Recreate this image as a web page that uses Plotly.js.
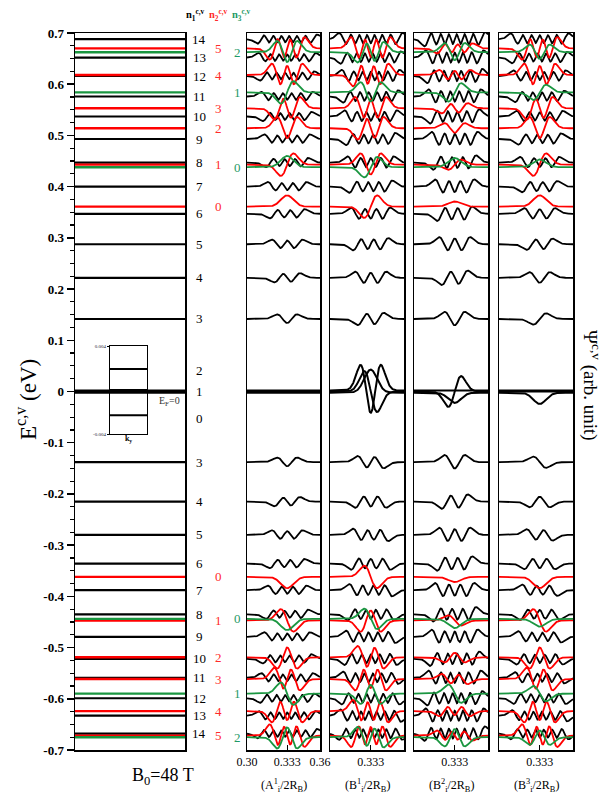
<!DOCTYPE html>
<html><head><meta charset="utf-8">
<script src="https://cdn.plot.ly/plotly-3.0.1.min.js"></script>
<style>html,body{margin:0;padding:0;background:#fff}</style>
</head><body><div id="chart" style="width:607px;height:795px"></div>
<script>
// ---- data (energies in eV) ----
const zeroN  = [0, 1, 2];
const zeroE  = [-0.0023, 0.0, 0.0019];
const condN1 = [3, 4, 5, 6, 7, 8, 9, 10, 11, 12, 13, 14];
const condE1 = [0.1416, 0.222, 0.2875, 0.347, 0.400, 0.447, 0.493, 0.537, 0.576, 0.616, 0.652, 0.688];
const condN2 = [0, 1, 2, 3, 4, 5];
const condE2 = [0.361, 0.443, 0.514, 0.553, 0.618, 0.670];
const condN3 = [0, 1, 2];
const condE3 = [0.438, 0.584, 0.6625];
const valN1  = [3, 4, 5, 6, 7, 8, 9, 10, 11, 12, 13, 14];
const valE1  = [-0.138, -0.215, -0.280, -0.336, -0.388, -0.435, -0.479, -0.522, -0.559, -0.599, -0.633, -0.668];
const valN2  = [0, 1, 2, 3, 4, 5];
const valE2  = [-0.362, -0.447, -0.519, -0.5615, -0.624, -0.672];
const valN3  = [0, 1, 2];
const valE3  = [-0.444, -0.590, -0.675];
const yTicks = [0.7, 0.6, 0.5, 0.4, 0.3, 0.2, 0.1, 0, -0.1, -0.2, -0.3, -0.4, -0.5, -0.6, -0.7];
const yTickText = ["0.7","0.6","0.5","0.4","0.3","0.2","0.1","0","-0.1","-0.2","-0.3","-0.4","-0.5","-0.6","-0.7"];
const insetTicks = [-0.004, 0.004];
const insetTickText = ["-0.004", "0.004"];
const panelTitles = ["(A<sup>1</sup><sub>i</sub>/2R<sub>B</sub>)", "(B<sup>1</sup><sub>i</sub>/2R<sub>B</sub>)", "(B<sup>2</sup><sub>i</sub>/2R<sub>B</sub>)", "(B<sup>3</sup><sub>i</sub>/2R<sub>B</sub>)"];
const panelTickVals = [[0.30, 0.333, 0.36], [0.333], [0.333], [0.333]];
const panelTickText = [["0.30", "0.333", "0.36"], ["0.333"], ["0.333"], ["0.333"]];
// wave-function look per panel (Landau-orbital order shift and amplitude, eV)
const blackShift = [-1, 0, -1, -2];
const redShift   = [0, 1, 0, 0];
const greenShift = [0, 1, 0, 0];
const blackAmp = [0.009, 0.012, 0.014, 0.011];
const redAmp   = [0.022, 0.022, 0.010, 0.022];
const greenAmp = [0.022, 0.020, 0.018, 0.015];
const zeroAmp  = [[0, 0, 0], [0.045, -0.04, 0.05], [-0.02, 0.03, 0], [-0.022, 0, 0]];
const center = 0.333, magLen = 0.0052;

// ---- helpers ----
const BLACK = "#000000", RED = "#ff0000", GREEN = "#1a9640";
const FONT = "Liberation Serif, Times New Roman, serif";
const W = 607, H = 795;
const fx = v => v / W, fy = v => 1 - v / H;

function hermite(m, xi) {
  let p0 = Math.pow(Math.PI, -0.25) * Math.exp(-xi * xi / 2);
  if (m === 0) return p0;
  let p1 = Math.SQRT2 * xi * p0;
  for (let k = 1; k < m; k++) {
    const p2 = Math.sqrt(2 / (k + 1)) * xi * p1 - Math.sqrt(k / (k + 1)) * p0;
    p0 = p1; p1 = p2;
  }
  return p1;
}
const xs = [];
for (let i = 0; i <= 300; i++) xs.push(0.30 + 0.06 * i / 300);
function wave(m, amp, E) {
  const v = xs.map(x => hermite(m, (x - center) / magLen));
  const mx = Math.max(...v.map(Math.abs)) || 1;
  return v.map(t => E + amp * t / mx);
}

const traces = [];
// ---- left panel: level lines ----
function levelTrace(Es, color, width) {
  const x = [], y = [];
  Es.forEach(E => { x.push(0, 1, null); y.push(E, E, null); });
  return {type: "scatter", mode: "lines", x, y, xaxis: "x", yaxis: "y",
          line: {color, width}, hoverinfo: "skip", showlegend: false};
}
traces.push(levelTrace(condE1.concat(valE1), BLACK, 2.2));
traces.push(levelTrace(zeroE, BLACK, 2.2));
traces.push(levelTrace(condE2.concat(valE2), RED, 2.4));
traces.push(levelTrace(condE3.concat(valE3), GREEN, 2.4));

// ---- inset ----
traces.push({type: "scatter", mode: "lines", xaxis: "x6", yaxis: "y6",
  x: [0, 1, null, 0, 1, null, 0, 1], y: [zeroE[2], zeroE[2], null, zeroE[1], zeroE[1], null, zeroE[0], zeroE[0]],
  line: {color: BLACK, width: 2}, hoverinfo: "skip", showlegend: false});

// ---- right panels: wave functions ----
for (let p = 0; p < 4; p++) {
  const xa = "x" + (p + 2), ya = "y" + (p + 2);
  function group(ns, Es, shift, amp, sign, color) {
    const x = [], y = [];
    ns.forEach((n, i) => {
      const m = Math.max(0, n + shift);
      const w = wave(m, amp * sign, Es[i]);
      x.push(...xs, null); y.push(...w, null);
    });
    return {type: "scatter", mode: "lines", x, y, xaxis: xa, yaxis: ya,
            line: {color, width: 1.8}, hoverinfo: "skip", showlegend: false};
  }
  const zx = [], zy = [];
  zeroN.forEach((n, i) => {
    const w = wave(n, zeroAmp[p][i], zeroE[i]);
    zx.push(...xs, null); zy.push(...w, null);
  });
  traces.push({type: "scatter", mode: "lines", x: zx, y: zy, xaxis: xa, yaxis: ya,
               line: {color: BLACK, width: 2}, hoverinfo: "skip", showlegend: false});
  traces.push(group(condN1, condE1, blackShift[p], blackAmp[p], 1, BLACK));
  traces.push(group(valN1, valE1, blackShift[p], blackAmp[p], p % 2 ? -1 : 1, BLACK));
  traces.push(group(condN2, condE2, redShift[p], redAmp[p], 1, RED));
  traces.push(group(valN2, valE2, redShift[p], redAmp[p], -1, RED));
  traces.push(group(condN3, condE3, greenShift[p], greenAmp[p], 1, GREEN));
  traces.push(group(valN3, valE3, greenShift[p], greenAmp[p], -1, GREEN));
}

// ---- layout ----
const yDom = [fy(750), fy(33)];
const layout = {
  width: W, height: H, margin: {l: 0, r: 0, t: 0, b: 0},
  paper_bgcolor: "#ffffff", plot_bgcolor: "rgba(0,0,0,0)", showlegend: false,
  font: {family: FONT, color: "#000", size: 12},
  xaxis: {domain: [fx(75), fx(185)], range: [0, 1], showline: true, mirror: true, linecolor: "#000", linewidth: 1.5,
          ticks: "", showticklabels: false, showgrid: false, zeroline: false, fixedrange: true},
  yaxis: {domain: yDom, range: [-0.7, 0.7], showline: true, mirror: true, linecolor: "#000", linewidth: 1.5,
          ticks: "outside", ticklen: 7, tickwidth: 1.5, tickcolor: "#000", tickvals: yTicks, ticktext: yTickText,
          tickfont: {family: FONT, size: 13, color: "#000", weight: "bold"},
          minor: {dtick: 0.025, tick0: 0, ticks: "outside", ticklen: 4, tickwidth: 1.2, tickcolor: "#000"},
          showgrid: false, zeroline: false, automargin: false, fixedrange: true},
  xaxis6: {domain: [fx(110), fx(147)], range: [0, 1], anchor: "y6", showline: true, mirror: true, linecolor: "#000", linewidth: 1,
           ticks: "", showticklabels: false, showgrid: false, zeroline: false,
           title: {text: "<b>k<sub>y</sub></b>", font: {family: FONT, size: 8, color: "#000"}, standoff: 1}},
  yaxis6: {domain: [fy(434), fy(346)], range: [-0.004, 0.004], anchor: "x6", showline: true, mirror: true, linecolor: "#000", linewidth: 1,
           ticks: "outside", ticklen: 2, tickcolor: "#000", tickvals: insetTicks, ticktext: insetTickText,
           tickfont: {family: FONT, size: 5, color: "#223"}, showgrid: false, zeroline: false, automargin: false},
  annotations: []
};
const panelPx = [[247, 320], [330, 404], [414, 488], [499, 573]];
for (let p = 0; p < 4; p++) {
  const k = p + 2;
  layout["xaxis" + k] = {domain: [fx(panelPx[p][0]), fx(panelPx[p][1])], range: [0.30, 0.36], anchor: "y" + k,
    showline: true, mirror: true, linecolor: "#000", linewidth: 1.5, ticks: "inside", ticklen: 5, tickwidth: 1.2, tickcolor: "#000",
    tickvals: panelTickVals[p], ticktext: panelTickText[p], tickfont: {family: FONT, size: 12, color: "#000"},
    showgrid: false, zeroline: false, automargin: false, fixedrange: true};
  layout["yaxis" + k] = {domain: yDom, range: [-0.7, 0.7], anchor: "x" + k,
    showline: true, mirror: true, linecolor: "#000", linewidth: 1.5, ticks: "", showticklabels: false,
    showgrid: false, zeroline: false, automargin: false, fixedrange: true};
  layout.annotations.push({xref: "paper", yref: "paper", x: (fx(panelPx[p][0]) + fx(panelPx[p][1])) / 2, y: fy(785),
    text: panelTitles[p], showarrow: false, font: {family: FONT, size: 12}, xanchor: "center", yanchor: "middle"});
}
const ann = layout.annotations;
function lab(text, xpx, E, color) {
  ann.push({xref: "paper", yref: "y", x: fx(xpx), y: E, text, showarrow: false,
            font: {family: FONT, size: 13, color}, xanchor: "center", yanchor: "middle"});
}
const LRED = "#ff2a2a", LGREEN = "#1f9a66";
condN1.forEach((n, i) => lab(String(n), 199, condE1[i], BLACK));
valN1.forEach((n, i) => lab(String(n), 199, valE1[i], BLACK));
condN2.forEach((n, i) => lab(String(n), 218, condE2[i], LRED));
valN2.forEach((n, i) => lab(String(n), 218, valE2[i], LRED));
condN3.forEach((n, i) => lab(String(n), 237, condE3[i], LGREEN));
valN3.forEach((n, i) => lab(String(n), 237, valE3[i], LGREEN));
const zeroLabelShift = [-0.05, 0, 0.04];
zeroN.forEach((n, i) => lab(String(n), 199, zeroE[i] + zeroLabelShift[i], BLACK));

ann.push({xref: "paper", yref: "paper", x: fx(195), y: fy(15), text: "n<sub>1</sub><sup>c,v</sup>", showarrow: false,
          font: {family: FONT, size: 10.5, color: BLACK, weight: "bold"}, xanchor: "center", yanchor: "middle"});
ann.push({xref: "paper", yref: "paper", x: fx(218), y: fy(15), text: "n<sub>2</sub><sup>c,v</sup>", showarrow: false,
          font: {family: FONT, size: 10.5, color: LRED, weight: "bold"}, xanchor: "center", yanchor: "middle"});
ann.push({xref: "paper", yref: "paper", x: fx(241), y: fy(15), text: "n<sub>3</sub><sup>c,v</sup>", showarrow: false,
          font: {family: FONT, size: 10.5, color: LGREEN, weight: "bold"}, xanchor: "center", yanchor: "middle"});
ann.push({xref: "paper", yref: "paper", x: fx(26), y: fy(400), text: "E<sup>c,v</sup> (eV)", textangle: -90, showarrow: false,
          font: {family: FONT, size: 23, color: "#000"}, xanchor: "center", yanchor: "middle"});
ann.push({xref: "paper", yref: "paper", x: fx(592), y: fy(385), text: "Ψ<sup>c,v</sup> (arb. unit)", textangle: 90, showarrow: false,
          font: {family: FONT, size: 19, color: "#000"}, xanchor: "center", yanchor: "middle"});
ann.push({xref: "paper", yref: "paper", x: fx(130), y: fy(776), text: "B<sub>0</sub>=48 T", showarrow: false,
          font: {family: FONT, size: 18, color: "#000"}, yanchor: "middle"});
ann.push({xref: "paper", yref: "paper", x: fx(169), y: fy(401), text: "E<sub>F</sub>=0", showarrow: false,
          font: {family: FONT, size: 10, color: "#333"}, xanchor: "center", yanchor: "middle"});

Plotly.newPlot("chart", traces, layout, {staticPlot: true, displayModeBar: false});
</script></body></html>
